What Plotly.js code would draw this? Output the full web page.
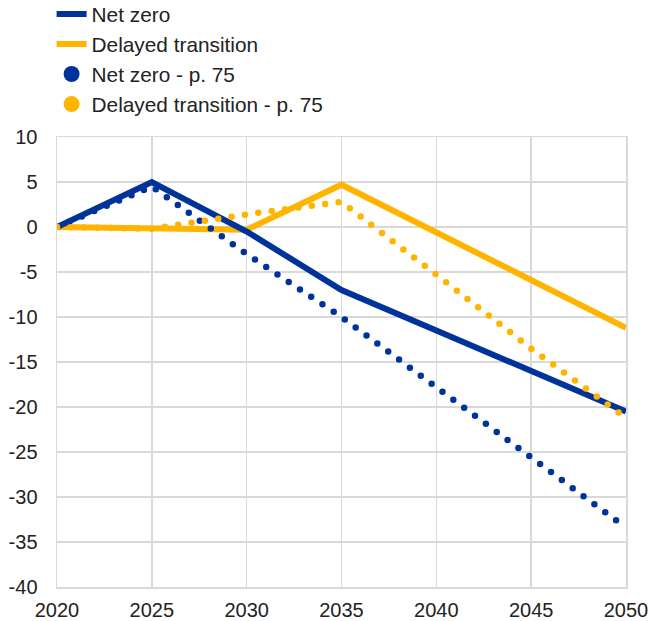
<!DOCTYPE html>
<html>
<head>
<meta charset="utf-8">
<script src="https://cdn.plot.ly/plotly-3.0.1.min.js"></script>
<style>
body{margin:0;padding:0;background:#fff;}
#chart{width:650px;height:621px;}
.scatterlayer .trace.dotted .js-line{stroke-linecap:round;}
</style>
</head>
<body>
<div id="chart"></div>
<script>
const years = [2020, 2025, 2030, 2035, 2040, 2045, 2050];
const netZero = [0, 5, -0.5, -7, -11.5, -16, -20.5];
const delayed = [0, -0.2, -0.3, 4.7, -0.6, -5.9, -11.2];
const netZeroP75 = [0, 4.5, -3, -10, -17.8, -25.6, -33.4];
const delayedP75 = [0, -0.2, 1.4, 2.8, -5.3, -13.5, -21.2];
const yTicks = [-40, -35, -30, -25, -20, -15, -10, -5, 0, 5, 10];
const xTicks = [2020, 2025, 2030, 2035, 2040, 2045, 2050];

const BLUE = '#003399';
const YELLOW = '#FFB400';
const dotDash = '0px,13.5px';

const traces = [
  {x: years, y: delayed, mode: 'lines', name: 'Delayed transition', legendrank: 2, legendgroup: 'b',
   line: {color: YELLOW, width: 6}},
  {x: years, y: netZero, mode: 'lines', name: 'Net zero', legendrank: 1, legendgroup: 'a',
   line: {color: BLUE, width: 6}},
  {x: years, y: netZeroP75, mode: 'lines', name: 'Net zero - p. 75', showlegend: false,
   line: {color: BLUE, width: 6.5, dash: dotDash}},
  {x: years, y: delayedP75, mode: 'lines', name: 'Delayed transition - p. 75', showlegend: false,
   line: {color: YELLOW, width: 6.5, dash: dotDash}},
  {x: [null], y: [null], mode: 'markers', name: 'Net zero - p. 75', legendrank: 3, legendgroup: 'c',
   marker: {color: BLUE, size: 16, symbol: 'circle'}},
  {x: [null], y: [null], mode: 'markers', name: 'Delayed transition - p. 75', legendrank: 4, legendgroup: 'd',
   marker: {color: YELLOW, size: 16, symbol: 'circle'}}
];

const layout = {
  width: 650, height: 621,
  margin: {l: 57, r: 24, t: 137, b: 34, pad: 0, autoexpand: false},
  paper_bgcolor: '#fff', plot_bgcolor: '#fff',
  font: {family: '"Liberation Sans", Arial, sans-serif', size: 20, color: '#222'},
  showlegend: true,
  legend: {x: -0.0095, y: 1.318, xanchor: 'left', yanchor: 'top', orientation: 'v',
           traceorder: 'grouped', tracegroupgap: 0,
           font: {size: 20.8, color: '#222'}, bgcolor: 'rgba(0,0,0,0)'},
  xaxis: {range: [2020, 2050], tickvals: xTicks, ticktext: xTicks.map(String),
          showgrid: true, gridcolor: '#d9d9d9', gridwidth: 1.5, zeroline: false,
          showline: true, linecolor: '#d9d9d9', linewidth: 1.5, mirror: true,
          ticks: '', ticklen: 0, ticklabelstandoff: 4, automargin: false, fixedrange: true},
  yaxis: {range: [-40, 10], tickvals: yTicks, ticktext: yTicks.map(String),
          showgrid: true, gridcolor: '#d9d9d9', gridwidth: 1.5, zeroline: false,
          showline: true, linecolor: '#d9d9d9', linewidth: 1.5, mirror: true,
          ticks: '', ticklen: 0, ticklabelstandoff: 14, automargin: false, fixedrange: true}
};

Plotly.newPlot('chart', traces, layout, {displayModeBar: false, staticPlot: true}).then(gd => {
  const tr = gd.querySelectorAll('.scatterlayer .trace');
  tr.forEach((t, i) => { if (i === 2 || i === 3) t.classList.add('dotted'); });
});
</script>
</body>
</html>
